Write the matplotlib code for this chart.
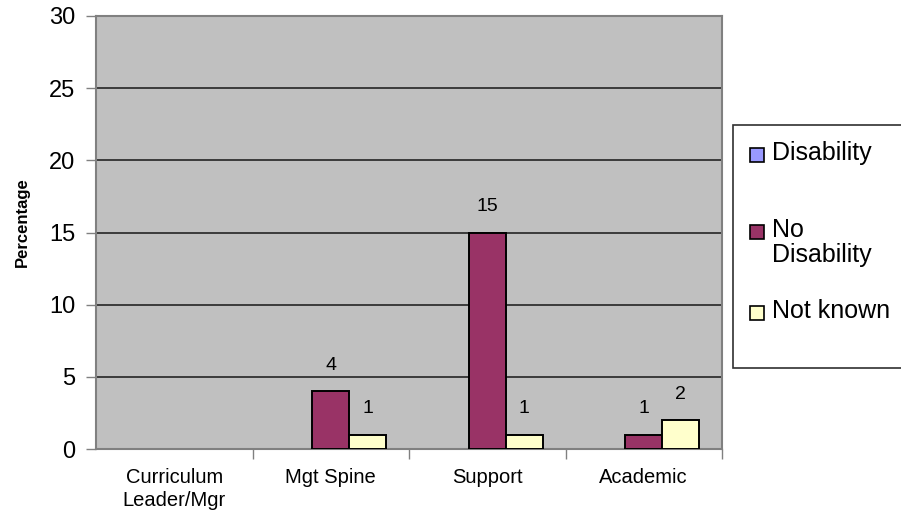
import matplotlib.pyplot as plt
import numpy as np
from matplotlib.patches import Rectangle

plt.rcParams['font.family'] = ['Liberation Sans', 'DejaVu Sans']

categories = ['Curriculum\nLeader/Mgr', 'Mgt Spine', 'Support', 'Academic']
series = ['Disability', 'No\nDisability', 'Not known']
disability = [0, 0, 0, 0]
no_disability = [0, 4, 15, 1]
not_known = [0, 1, 1, 2]
colors = ['#9999FF', '#993366', '#FFFFCC']

W, H = 901, 524
fig = plt.figure(figsize=(W / 100, H / 100), dpi=100)
ax = fig.add_axes([96 / W, 1 - 449 / H, 626 / W, 433 / H])
ax.set_facecolor('#C0C0C0')

x = np.arange(len(categories))
w = 0.236
for k, vals in enumerate([disability, no_disability, not_known]):
    vals = np.array(vals)
    pos = x + (k - 1) * w
    keep = vals > 0  # empty bars are not drawn
    ax.bar(pos[keep], vals[keep], width=w, color=colors[k], edgecolor='black',
           linewidth=1.4, zorder=3)
    for p, v in zip(pos[keep], vals[keep]):
        ax.text(p, v + 1.2, str(v), ha='center', va='bottom', fontsize=14)

ax.set_xlim(-0.5, len(categories) - 0.5)
ax.set_ylim(0, 30)
ax.set_yticks(range(0, 31, 5))
ax.tick_params(axis='y', labelsize=17, length=7, width=1, color='#808080', pad=8)
ax.set_xticks(x)
ax.set_xticklabels(categories, fontsize=14.5, linespacing=1.25)
ax.tick_params(axis='x', length=0, pad=14)
# tick marks sit between the categories
ax.set_xticks(np.arange(0.5, len(categories), 1), minor=True)
ax.tick_params(axis='x', which='minor', length=7, width=1, color='#808080')
ax.grid(axis='y', color='#303030', linewidth=1.3, zorder=1)
for s in ax.spines.values():
    s.set_color('#808080')
    s.set_linewidth(1.5)
ax.set_ylabel('Percentage', fontsize=12, fontweight='bold')
ax.yaxis.set_label_coords(-0.105, 0.524)

# legend box drawn in pixel coordinates
def fx(px):
    return px / W

def fy(py):
    return 1 - py / H

fig.patches.append(Rectangle((fx(733), fy(368)), fx(910) - fx(733), fy(125) - fy(368),
                             transform=fig.transFigure, facecolor='white',
                             edgecolor='#303030', linewidth=1.2))
centers = [155, 232, 313]
for c, lab, yc in zip(colors, series, centers):
    fig.patches.append(Rectangle((fx(750), fy(yc + 7)), fx(764) - fx(750), fy(yc - 7) - fy(yc + 7),
                                 transform=fig.transFigure, facecolor=c,
                                 edgecolor='black', linewidth=1.2))
    fig.text(fx(772), fy(yc - 14), lab, ha='left', va='top', fontsize=18,
             linespacing=1.05)

fig.savefig('out.png', dpi=100)
